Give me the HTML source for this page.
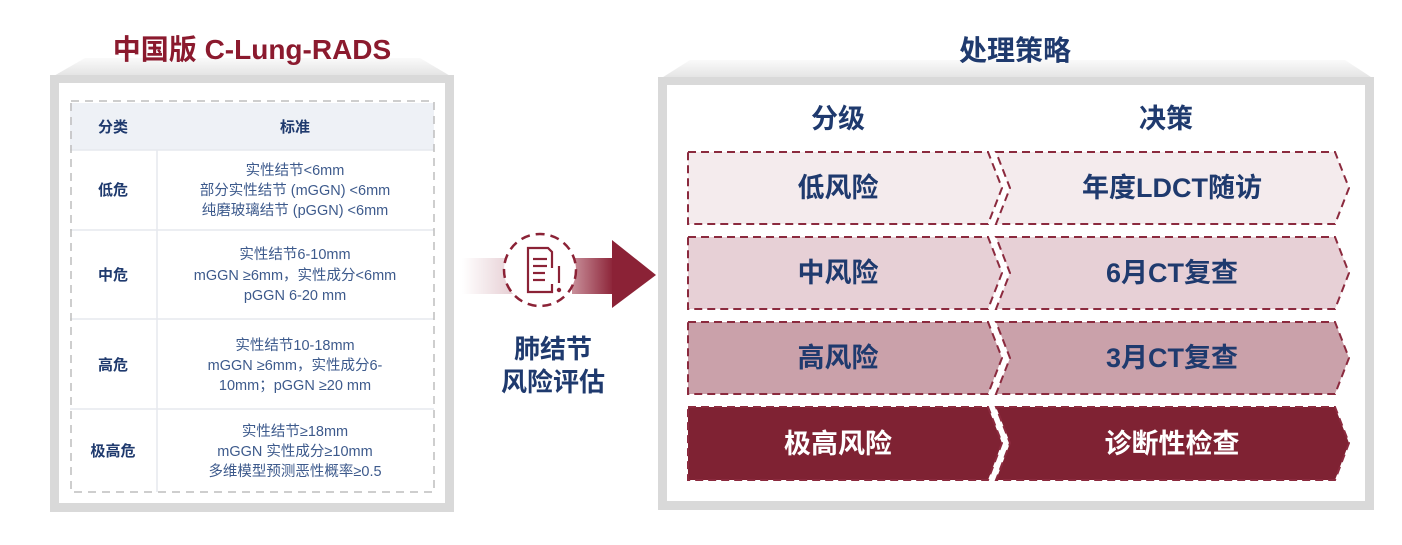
<!DOCTYPE html>
<html><head><meta charset="utf-8"><style>
body{margin:0;width:1402px;height:540px;background:#fff;overflow:hidden;font-family:"Liberation Sans","Noto Sans CJK SC",sans-serif}
svg text{font-family:"Liberation Sans","Noto Sans CJK SC",sans-serif}
</style></head><body>
<svg width="1402" height="540" viewBox="0 0 1402 540" xmlns="http://www.w3.org/2000/svg">
<defs>
<linearGradient id="roof" x1="0" y1="0" x2="0" y2="1"><stop offset="0" stop-color="#fafafa"/><stop offset="1" stop-color="#e2e2e2"/></linearGradient>
<linearGradient id="bar" x1="0" y1="0" x2="1" y2="0"><stop offset="0" stop-color="#ffffff"/><stop offset="1" stop-color="#e2c6cc"/></linearGradient>
<linearGradient id="bar2" x1="0" y1="0" x2="1" y2="0"><stop offset="0" stop-color="#c9909b"/><stop offset="1" stop-color="#8b2236"/></linearGradient>
</defs>
<!-- left panel -->
<polygon points="52,77 85,58 420,58 452,77" fill="url(#roof)"/>
<rect x="50" y="75" width="404" height="437" fill="#d9d9d9"/>
<rect x="59" y="83" width="386" height="420" fill="#fff"/>
<rect x="70" y="103" width="364" height="47" fill="#eef1f6"/>
<line x1="157" y1="150" x2="157" y2="492" stroke="#e6e9ee" stroke-width="1.5"/>
<g stroke="#e6e9ee" stroke-width="1.5"><line x1="70" y1="150" x2="434" y2="150"/><line x1="70" y1="230" x2="434" y2="230"/><line x1="70" y1="319" x2="434" y2="319"/><line x1="70" y1="409" x2="434" y2="409"/></g>
<rect x="71" y="101" width="363" height="391" fill="none" stroke="#bdbdbd" stroke-width="1.5" stroke-dasharray="8,6"/>
<text x="252" y="59" text-anchor="middle" font-size="28" font-weight="bold" fill="#8b1a2e">中国版 C-Lung-RADS</text>
<g font-size="15" font-weight="bold" fill="#1f3a6e" text-anchor="middle">
<text x="113" y="132">分类</text><text x="295" y="132">标准</text>
<text x="113" y="195">低危</text><text x="113" y="280">中危</text><text x="113" y="370">高危</text><text x="113" y="456">极高危</text>
</g>
<g font-size="14.5" fill="#3d5a8c" text-anchor="middle">
<text x="295" y="175">实性结节&lt;6mm</text><text x="295" y="195">部分实性结节 (mGGN) &lt;6mm</text><text x="295" y="215">纯磨玻璃结节 (pGGN) &lt;6mm</text>
<text x="295" y="259">实性结节6-10mm</text><text x="295" y="280">mGGN ≥6mm，实性成分&lt;6mm</text><text x="295" y="300">pGGN 6-20 mm</text>
<text x="295" y="350">实性结节10-18mm</text><text x="295" y="370">mGGN ≥6mm，实性成分6-</text><text x="295" y="390">10mm；pGGN ≥20 mm</text>
<text x="295" y="436">实性结节≥18mm</text><text x="295" y="456">mGGN 实性成分≥10mm</text><text x="295" y="476">多维模型预测恶性概率≥0.5</text>
</g>
<!-- middle -->
<rect x="462" y="258" width="60" height="36" fill="url(#bar)"/>
<rect x="572" y="258" width="42" height="36" fill="url(#bar2)"/>
<polygon points="612,240 656,275 612,308" fill="#8b2236"/>
<circle cx="540" cy="270" r="36" fill="#fff" stroke="#8b2236" stroke-width="2.5" stroke-dasharray="9,6"/>
<g fill="none" stroke="#8b2236" stroke-width="2.2">
<polyline points="552,268 552,252 548,248 528,248 528,292 552,292 552,284"/>
<line x1="533" y1="259" x2="547" y2="259"/><line x1="533" y1="266" x2="547" y2="266"/><line x1="533" y1="273" x2="545" y2="273"/><line x1="533" y1="280" x2="545" y2="280"/>
<line x1="559" y1="266" x2="559" y2="283"/>
</g>
<circle cx="559" cy="290" r="2.2" fill="#8b2236"/>
<g font-size="26" font-weight="bold" fill="#1f3a6e" text-anchor="middle">
<text x="553" y="358">肺结节</text><text x="553" y="391">风险评估</text>
</g>
<!-- right panel -->
<polygon points="660,79 690,60 1345,60 1374,79" fill="url(#roof)"/>
<rect x="658" y="77" width="716" height="433" fill="#d9d9d9"/>
<rect x="667" y="85" width="698" height="416" fill="#fff"/>
<text x="1015" y="60" text-anchor="middle" font-size="28" font-weight="bold" fill="#1f3a6e">处理策略</text>
<g font-size="27" font-weight="bold" fill="#1f3a6e" text-anchor="middle"><text x="838" y="128">分级</text><text x="1166" y="128">决策</text></g>
<g stroke="#8b2a3e" stroke-width="2" stroke-dasharray="8,5">
<polygon points="688,152 988,152 1002,188 988,224 688,224" fill="#f4ebed"/>
<polygon points="996,152 1335,152 1349,188 1335,224 996,224 1010,188" fill="#f4ebed"/>
<polygon points="688,237 988,237 1002,273 988,309 688,309" fill="#e7d0d6"/>
<polygon points="996,237 1335,237 1349,273 1335,309 996,309 1010,273" fill="#e7d0d6"/>
<polygon points="688,322 988,322 1002,358 988,394 688,394" fill="#caa1aa"/>
<polygon points="996,322 1335,322 1349,358 1335,394 996,394 1010,358" fill="#caa1aa"/>
<polygon points="688,407 988,407 1002,443 988,480 688,480" fill="#7f2233"/>
<polygon points="996,407 1335,407 1349,443 1335,480 996,480 1010,443" fill="#7f2233"/>
</g>
<g font-size="27" font-weight="bold" text-anchor="middle" fill="#1f3a6e">
<text x="838" y="197">低风险</text><text x="1172" y="197">年度LDCT随访</text>
<text x="838" y="282">中风险</text><text x="1172" y="282">6月CT复查</text>
<text x="838" y="367">高风险</text><text x="1172" y="367">3月CT复查</text>
<text x="838" y="453" fill="#fff">极高风险</text><text x="1172" y="453" fill="#fff">诊断性检查</text>
</g>
</svg>
</body></html>
